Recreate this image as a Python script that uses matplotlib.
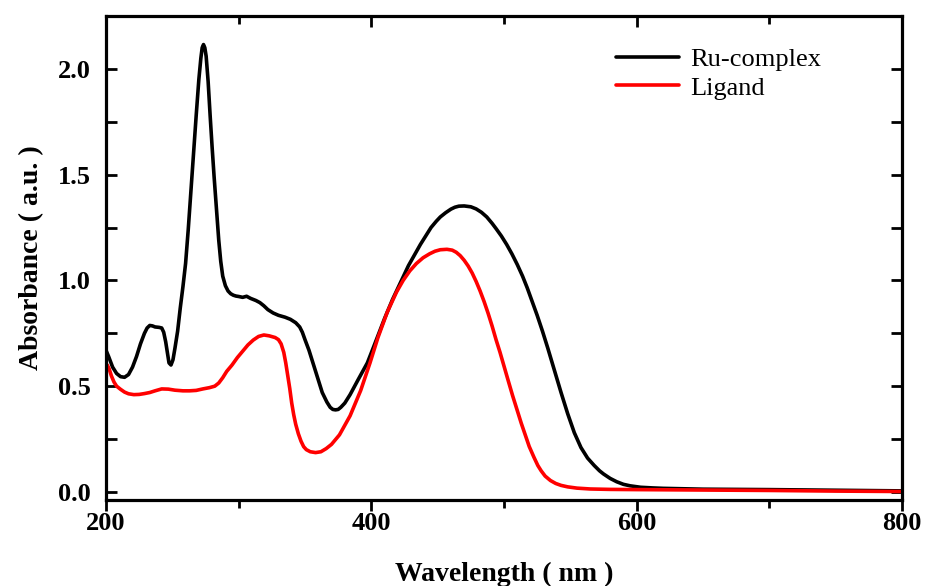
import matplotlib
matplotlib.use("Agg")
import matplotlib.pyplot as plt
from matplotlib.ticker import MultipleLocator, FormatStrFormatter

# UV-Vis absorption spectra
ru_wavelength = [200, 202, 205, 208, 211, 214, 217, 220, 223, 226, 229, 231, 233, 235, 237,
                 240, 242, 243.5, 245, 246.5, 247.5, 249, 250.5, 252, 254, 256, 258, 260, 262,
                 264, 266, 268, 270, 271.5, 272.5, 273.5, 274.5, 275.5, 277, 278.5, 280, 281.5,
                 283.5, 285, 286.5, 288, 290, 292, 294, 296, 298, 300, 303, 306, 309, 313, 316,
                 319, 322, 326, 330, 335, 339, 343, 346, 348, 350, 353, 356, 360, 363, 366.5,
                 369, 371, 373, 375, 377, 380, 384, 390, 397, 402, 410, 416, 422, 428, 433,
                 437, 441, 445, 449, 452, 456, 460, 463, 466, 470, 475, 479, 483, 487, 491,
                 494, 498, 502, 506, 510, 514, 517.5, 521, 525, 529, 533, 538, 543, 548, 553,
                 558, 563, 568, 572, 575, 580, 585, 590, 595, 603, 612, 620, 635, 650, 675,
                 700, 750, 800]
ru_absorbance = [0.67, 0.64, 0.59, 0.56, 0.545, 0.542, 0.555, 0.59, 0.64, 0.70, 0.75, 0.775,
                 0.787, 0.785, 0.78, 0.778, 0.775, 0.755, 0.71, 0.65, 0.61, 0.60, 0.625, 0.68,
                 0.76, 0.87, 0.97, 1.08, 1.24, 1.42, 1.60, 1.78, 1.95, 2.05, 2.10, 2.115, 2.10,
                 2.06, 1.94, 1.78, 1.63, 1.49, 1.32, 1.19, 1.09, 1.02, 0.975, 0.95, 0.937, 0.93,
                 0.926, 0.924, 0.92, 0.925, 0.915, 0.905, 0.895, 0.88, 0.862, 0.846, 0.835,
                 0.826, 0.816, 0.80, 0.78, 0.755, 0.72, 0.67, 0.61, 0.53, 0.47, 0.425, 0.40,
                 0.39, 0.388, 0.39, 0.40, 0.42, 0.46, 0.53, 0.61, 0.69, 0.82, 0.91, 0.99, 1.07,
                 1.125, 1.17, 1.21, 1.25, 1.28, 1.30, 1.32, 1.337, 1.346, 1.351, 1.352, 1.348,
                 1.338, 1.322, 1.30, 1.27, 1.245, 1.21, 1.17, 1.125, 1.075, 1.02, 0.965, 0.905,
                 0.835, 0.76, 0.68, 0.575, 0.47, 0.37, 0.28, 0.21, 0.16, 0.125, 0.10, 0.085,
                 0.064, 0.048, 0.036, 0.029, 0.022, 0.019, 0.017, 0.015, 0.013, 0.012, 0.011,
                 0.008, 0.005]

ligand_wavelength = [200, 201, 202.5, 204, 206, 208, 211, 214, 217, 221, 225, 229, 233, 237,
                     242, 247, 252, 258, 263, 268, 273, 278, 282, 285, 288, 291, 295, 299, 303,
                     307, 311, 315, 319, 323, 327.5, 330, 332, 334, 335.5, 337, 338.5, 340,
                     341.5, 343, 345, 347, 349, 351, 354, 358, 362, 366, 370, 376, 384, 392,
                     399, 405, 412, 419, 424, 429, 434, 439, 444, 448, 452, 457, 461, 464, 467,
                     470, 473, 476, 479, 482, 485, 488, 491, 494, 497, 500, 503, 506.5, 510, 513,
                     516, 519, 522.5, 525.5, 528, 531, 535, 539, 543, 548, 555, 565, 580, 600,
                     650, 700, 750, 800]
ligand_absorbance = [0.59, 0.60, 0.58, 0.55, 0.52, 0.50, 0.485, 0.472, 0.464, 0.46, 0.461,
                     0.465, 0.47, 0.478, 0.487, 0.486, 0.481, 0.478, 0.478, 0.48, 0.487, 0.493,
                     0.50, 0.515, 0.54, 0.57, 0.60, 0.635, 0.665, 0.695, 0.718, 0.735, 0.742,
                     0.738, 0.73, 0.72, 0.70, 0.66, 0.61, 0.55, 0.49, 0.42, 0.365, 0.32, 0.275,
                     0.24, 0.214, 0.2, 0.19, 0.186, 0.19, 0.205, 0.225, 0.27, 0.36, 0.48, 0.61,
                     0.73, 0.85, 0.945, 1.0, 1.045, 1.08, 1.107, 1.126, 1.138, 1.145, 1.147,
                     1.143, 1.133, 1.117, 1.095, 1.068, 1.035, 0.995, 0.95, 0.9, 0.845, 0.785,
                     0.72, 0.66, 0.595, 0.53, 0.455, 0.385, 0.325, 0.27, 0.215, 0.165, 0.125,
                     0.1, 0.075, 0.054, 0.04, 0.031, 0.024, 0.018, 0.014, 0.012, 0.011, 0.009,
                     0.007, 0.004, 0.002]

series_labels = ["Ru-complex", "Ligand"]
x_label = "Wavelength ( nm )"
y_label = "Absorbance ( a.u. )"

plt.rcParams["font.family"] = ["Liberation Serif", "DejaVu Serif"]

fig = plt.figure(figsize=(9.28, 5.86), dpi=100)
ax = fig.add_axes([0.1142, 0.1468, 0.8578, 0.8259])

ax.plot(ru_wavelength, ru_absorbance, color="black", lw=2.6, label=series_labels[0],
        solid_joinstyle="round", solid_capstyle="round")
ax.plot(ligand_wavelength, ligand_absorbance, color="#ff0000", lw=2.6, label=series_labels[1],
        solid_joinstyle="round", solid_capstyle="round")

ax.set_xlim(200, 800)
ax.set_ylim(-0.038, 2.25)

ax.xaxis.set_major_locator(MultipleLocator(200))
ax.xaxis.set_minor_locator(MultipleLocator(100))
ax.yaxis.set_major_locator(MultipleLocator(0.5))
ax.yaxis.set_minor_locator(MultipleLocator(0.25))
ax.yaxis.set_major_formatter(FormatStrFormatter("%.1f"))

for s in ax.spines.values():
    s.set_linewidth(2.3)

ax.tick_params(axis="x", which="major", direction="out", length=8, width=2, pad=1,
               labelsize=19, top=True)
ax.tick_params(axis="x", which="minor", direction="out", length=6, width=2, top=True)
ax.tick_params(axis="y", which="major", direction="in", length=8, width=2, pad=11,
               labelsize=19, right=True)
ax.tick_params(axis="y", which="minor", direction="in", length=8, width=2, right=True)
# ticks on the top axis point down into the plot
for t in ax.xaxis.get_major_ticks() + ax.xaxis.get_minor_ticks():
    t.tick2line.set_marker(3)
for lab in ax.get_xticklabels() + ax.get_yticklabels():
    lab.set_fontweight("bold")

ax.set_xlabel(x_label, fontsize=20, fontweight="bold", labelpad=19)
ax.set_ylabel(y_label, fontsize=20, fontweight="bold", labelpad=10)

leg = ax.legend(loc="upper left", bbox_to_anchor=(0.621, 0.968), frameon=False,
                fontsize=19, handlelength=2.4, handletextpad=0.4, labelspacing=0.2,
                borderaxespad=0.2)
for line in leg.get_lines():
    line.set_linewidth(2.6)

fig.savefig("out.png", dpi=100, facecolor="white")
